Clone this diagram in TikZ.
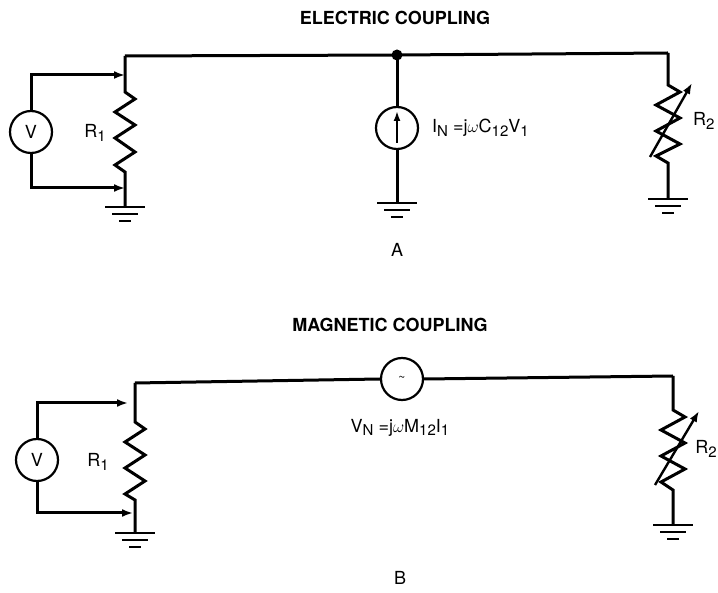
\documentclass[tikz,border=0pt]{standalone}
\usepackage{fontspec}
\setmainfont{TeX Gyre Heros}
\usetikzlibrary{arrows.meta}
\newcommand\sbs[1]{\raisebox{-0.35ex}{\fontsize{15}{15}\selectfont #1}}
\tikzset{
  wire/.style={line width=3pt, line join=miter},
  meter/.style={circle, draw, line width=2.2pt, minimum size=42pt, inner sep=0pt, font=\fontsize{18}{18}\selectfont},
  lbl/.style={font=\fontsize{18}{18}\selectfont, inner sep=1pt},
  ttl/.style={font=\fontsize{18}{18}\selectfont\bfseries},
  tipa/.style={-{Latex[length=11pt,width=8pt]}},
  gnd/.pic={\draw[line width=2.6pt] (-20,0)--(20,0);
            \draw[line width=2.2pt] (-13,7)--(13,7);
            \draw[line width=2.2pt] (-6,14)--(6,14);}
}
\begin{document}
\begin{tikzpicture}[x=1pt,y=-1pt]
\useasboundingbox (0,0) rectangle (718,593);
% ===== A =====
\node[ttl] (tA) at (395,18) {ELECTRIC COUPLING};
\node[meter] (VA) at (31,132) {V};
\coordinate (a1) at (125,56);
\coordinate (a1t) at (125,75);
\coordinate (a1b) at (125,188);
\coordinate (gA1) at (125,207);
\coordinate (jA) at (397,55);
\coordinate (a2) at (668,53);
\coordinate (gA2) at (668,199);
\coordinate (gA3) at (397,203);
\draw[wire] (a1) -- (jA) -- (a2);
\fill (jA) circle (5.5pt);
% R1
\draw[wire] (a1) -- (125,92) -- (135,99) -- (115,112) -- (135,125) -- (115,138) -- (135,152) -- (115,165) -- (125,172) -- (gA1);
\pic at (gA1) {gnd};
\node[lbl] (R1A) at (95,133) {R\sbs{1}};
% meter leads
\draw[wire,tipa] (VA.north) |- (a1t);
\draw[wire,tipa] (VA.south) |- (a1b);
% current source
\node[meter] (IS) at (397,128) {};
\coordinate (isb) at (397,143);
\coordinate (ist) at (397,111);
\draw[wire] (jA) -- (IS.north);
\draw[wire] (IS.south) -- (gA3);
\pic at (gA3) {gnd};
\draw[line width=2.4pt,-{Latex[length=10pt,width=7pt]}] (isb) -- (ist);
\node[lbl,anchor=west] (IN) at (431,128) {I\sbs{N} =j$\omega$C\sbs{12}V\sbs{1}};
% R2
\draw[wire] (a2) -- (668,85) -- (680,92) -- (656,105) -- (680,118) -- (656,131) -- (680,144) -- (656,156) -- (668,163) -- (gA2);
\pic at (gA2) {gnd};
\draw[line width=2.4pt,tipa] (650,157) -- (692,83);
\node[lbl,anchor=west] (R2A) at (692,121) {R\sbs{2}};
\node[lbl] (A) at (397,250) {A};
% ===== B =====
\node[ttl] (tB) at (390,325) {MAGNETIC COUPLING};
\node[meter] (VB) at (37,460) {V};
\coordinate (b1) at (135,383);
\coordinate (b1t) at (128,403);
\coordinate (b1b) at (133,513);
\coordinate (gB1) at (135,533);
\coordinate (b2) at (673,376);
\coordinate (gB2) at (673,525);
\node[meter] (AC) at (402,379) {\raisebox{1pt}{\fontsize{12}{12}\selectfont\textasciitilde}};
\draw[wire] (b1) -- (AC.west);
\draw[wire] (AC.east) -- (b2);
\draw[wire] (b1) -- (135,422) -- (145,429) -- (125,442) -- (145,455) -- (125,468) -- (145,481) -- (125,494) -- (135,500) -- (gB1);
\pic at (gB1) {gnd};
\node[lbl] (R1B) at (98,462) {R\sbs{1}};
\draw[wire,tipa] (VB.north) |- (b1t);
\draw[wire,tipa] (VB.south) |- (b1b);
\node[lbl] (VN) at (400,428) {V\sbs{N} =j$\omega$M\sbs{12}I\sbs{1}};
\draw[wire] (b2) -- (673,410) -- (685,417) -- (661,430) -- (685,443) -- (661,456) -- (685,469) -- (661,482) -- (673,490) -- (gB2);
\pic at (gB2) {gnd};
\draw[line width=2.4pt,tipa] (655,485) -- (699,411);
\node[lbl,anchor=east] (R2B) at (718,449) {R\sbs{2}};
\node[lbl] (B) at (400,578) {B};
\end{tikzpicture}
\end{document}
